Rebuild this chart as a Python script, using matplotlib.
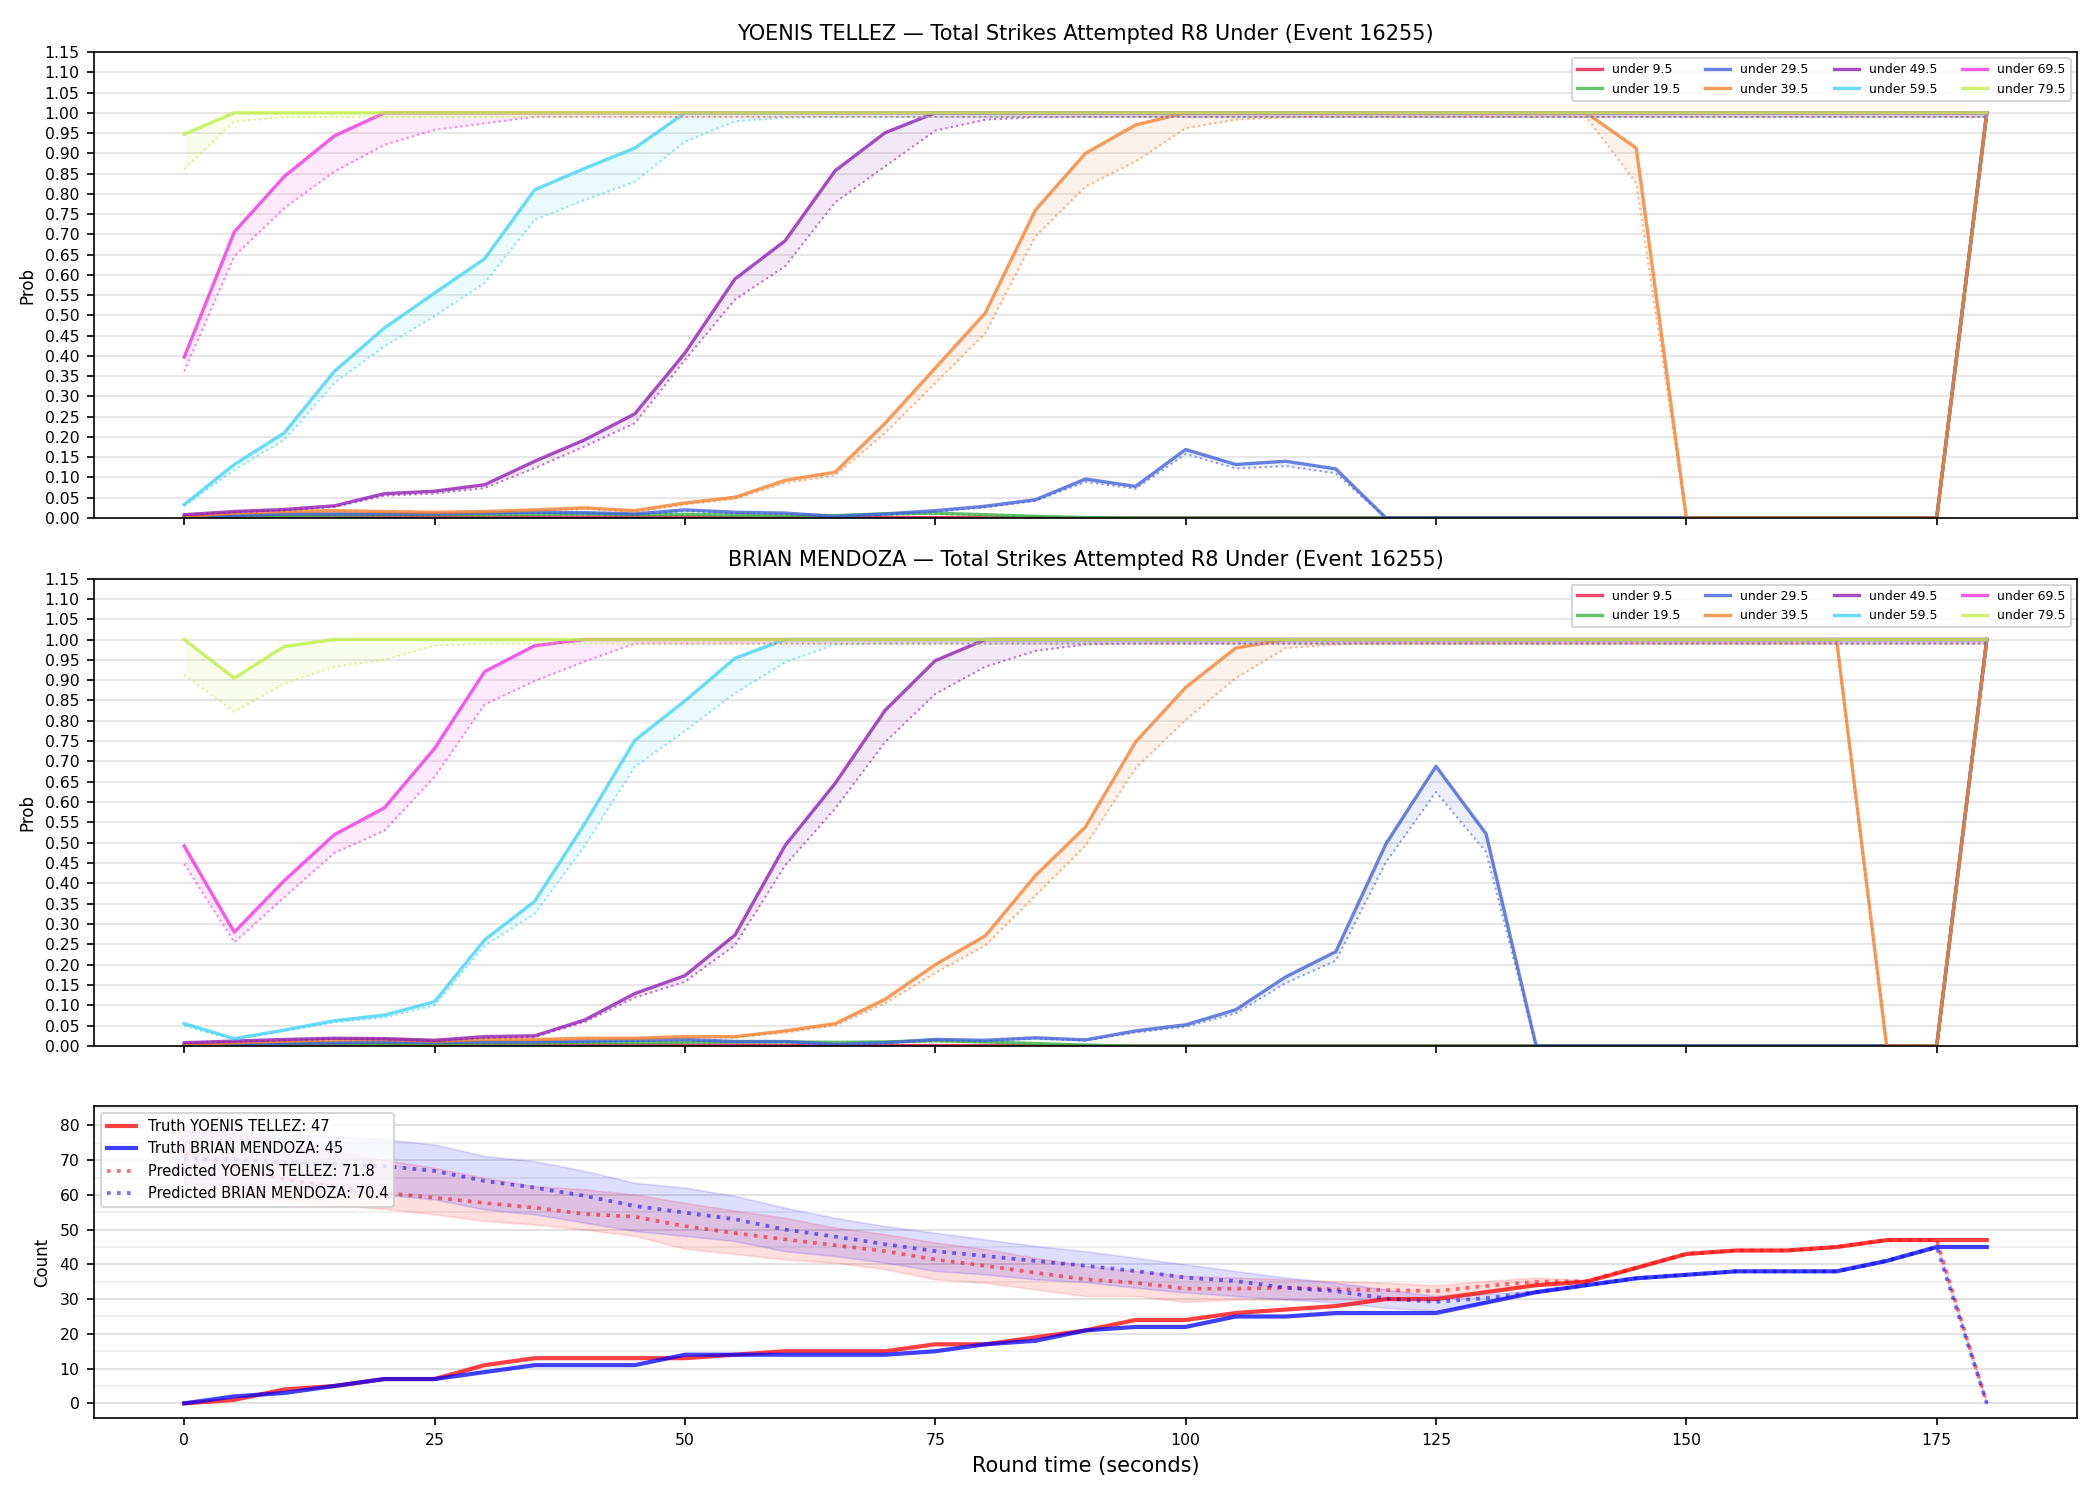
import matplotlib.pyplot as plt
from matplotlib.ticker import MultipleLocator

times = list(range(0, 181, 5))

labels = ["under 9.5", "under 19.5", "under 29.5", "under 39.5",
          "under 49.5", "under 59.5", "under 69.5", "under 79.5"]
colors = ["#e6194b", "#3cb44b", "#4363d8", "#f58231",
          "#911eb4", "#42d4f4", "#f032e6", "#bfef45"]

# ---- YOENIS TELLEZ : solid = model prob, dotted = lower edge ----
tel_u9 = [0.002, 0.003, 0.003, 0.003, 0.003, 0.003, 0.002, 0.002, 0.002, 0.002, 0.002, 0.001, 0.001,
          0.001, 0.001, 0.001, 0.001, 0.001, 0, 0, 0, 0, 0, 0, 0, 0, 0, 0, 0, 0, 0, 0, 0, 0, 0, 0, 1.0]
tel_u9_lo = [0.001, 0.002, 0.002, 0.002, 0.002, 0.002, 0.001, 0.001, 0.001, 0.001, 0.001, 0.001, 0.001,
             0.001, 0.001, 0.001, 0.001, 0.001, 0, 0, 0, 0, 0, 0, 0, 0, 0, 0, 0, 0, 0, 0, 0, 0, 0, 0, 0.99]
tel_u19 = [0.003, 0.005, 0.006, 0.007, 0.008, 0.008, 0.008, 0.009, 0.010, 0.008, 0.009, 0.007, 0.006,
           0.006, 0.010, 0.012, 0.008, 0.004, 0.001, 0, 0, 0, 0, 0, 0, 0, 0, 0, 0, 0, 0, 0, 0, 0, 0, 0, 1.0]
tel_u19_lo = [0.002, 0.004, 0.005, 0.006, 0.007, 0.007, 0.007, 0.008, 0.009, 0.007, 0.008, 0.006, 0.005,
              0.005, 0.009, 0.010, 0.007, 0.003, 0.001, 0, 0, 0, 0, 0, 0, 0, 0, 0, 0, 0, 0, 0, 0, 0, 0, 0, 0.99]
tel_u29 = [0.002, 0.006, 0.010, 0.010, 0.010, 0.010, 0.012, 0.014, 0.013, 0.010, 0.020, 0.014, 0.012,
           0.004, 0.010, 0.018, 0.029, 0.045, 0.096, 0.078, 0.169, 0.132, 0.140, 0.121,
           0, 0, 0, 0, 0, 0, 0, 0, 0, 0, 0, 0, 1.0]
tel_u29_lo = [0.001, 0.005, 0.008, 0.008, 0.008, 0.008, 0.010, 0.012, 0.011, 0.008, 0.017, 0.012, 0.010,
              0.003, 0.008, 0.015, 0.026, 0.042, 0.089, 0.072, 0.158, 0.122, 0.128, 0.110,
              0, 0, 0, 0, 0, 0, 0, 0, 0, 0, 0, 0, 0.99]
tel_u39 = [0.004, 0.012, 0.016, 0.018, 0.016, 0.014, 0.016, 0.020, 0.025, 0.018, 0.037, 0.051, 0.093,
           0.113, 0.234, 0.370, 0.506, 0.760, 0.900, 0.970, 1.0, 1.0, 1.0, 1.0, 1.0, 1.0, 1.0, 1.0, 1.0,
           0.913, 0, 0, 0, 0, 0, 0, 1.0]
tel_u39_lo = [0.003, 0.010, 0.014, 0.015, 0.014, 0.012, 0.014, 0.017, 0.022, 0.015, 0.033, 0.047, 0.086,
              0.105, 0.210, 0.333, 0.456, 0.695, 0.818, 0.880, 0.962, 0.983, 0.989, 0.99, 0.99, 0.99, 0.99,
              0.99, 0.99, 0.826, 0, 0, 0, 0, 0, 0, 0.99]
tel_u49 = [0.008, 0.016, 0.021, 0.030, 0.060, 0.066, 0.082, 0.140, 0.193, 0.257, 0.407, 0.590, 0.684,
           0.857, 0.951, 1.0, 1.0, 1.0, 1.0, 1.0, 1.0, 1.0, 1.0, 1.0, 1.0, 1.0, 1.0, 1.0, 1.0, 1.0, 1.0,
           1.0, 1.0, 1.0, 1.0, 1.0, 1.0]
tel_u49_lo = [0.007, 0.014, 0.019, 0.027, 0.055, 0.060, 0.074, 0.123, 0.177, 0.234, 0.390, 0.539, 0.621,
              0.779, 0.868, 0.956, 0.983, 0.989, 0.99, 0.99, 0.99, 0.99, 0.99, 0.99, 0.99, 0.99, 0.99,
              0.99, 0.99, 0.99, 0.99, 0.99, 0.99, 0.99, 0.99, 0.99, 0.99]
tel_u59 = [0.033, 0.132, 0.210, 0.362, 0.469, 0.555, 0.640, 0.810, 0.863, 0.913, 1.0, 1.0, 1.0, 1.0,
           1.0, 1.0, 1.0, 1.0, 1.0, 1.0, 1.0, 1.0, 1.0, 1.0, 1.0, 1.0, 1.0, 1.0, 1.0, 1.0, 1.0, 1.0, 1.0,
           1.0, 1.0, 1.0, 1.0]
tel_u59_lo = [0.029, 0.119, 0.193, 0.333, 0.424, 0.498, 0.580, 0.736, 0.785, 0.830, 0.929, 0.979, 0.988,
              0.99, 0.99, 0.99, 0.99, 0.99, 0.99, 0.99, 0.99, 0.99, 0.99, 0.99, 0.99, 0.99, 0.99, 0.99,
              0.99, 0.99, 0.99, 0.99, 0.99, 0.99, 0.99, 0.99, 0.99]
tel_u69 = [0.397, 0.706, 0.843, 0.943, 1.0, 1.0, 1.0, 1.0, 1.0, 1.0, 1.0, 1.0, 1.0, 1.0, 1.0, 1.0, 1.0,
           1.0, 1.0, 1.0, 1.0, 1.0, 1.0, 1.0, 1.0, 1.0, 1.0, 1.0, 1.0, 1.0, 1.0, 1.0, 1.0, 1.0, 1.0, 1.0, 1.0]
tel_u69_lo = [0.362, 0.646, 0.765, 0.855, 0.921, 0.958, 0.974, 0.99, 0.99, 0.99, 0.99, 0.99, 0.99, 0.99,
              0.99, 0.99, 0.99, 0.99, 0.99, 0.99, 0.99, 0.99, 0.99, 0.99, 0.99, 0.99, 0.99, 0.99, 0.99,
              0.99, 0.99, 0.99, 0.99, 0.99, 0.99, 0.99, 0.99]
tel_u79 = [0.947, 1.0, 1.0, 1.0, 1.0, 1.0, 1.0, 1.0, 1.0, 1.0, 1.0, 1.0, 1.0, 1.0, 1.0, 1.0, 1.0, 1.0,
           1.0, 1.0, 1.0, 1.0, 1.0, 1.0, 1.0, 1.0, 1.0, 1.0, 1.0, 1.0, 1.0, 1.0, 1.0, 1.0, 1.0, 1.0, 1.0]
tel_u79_lo = [0.861, 0.979, 0.989, 0.99, 0.99, 0.99, 0.99, 0.99, 0.99, 0.99, 0.99, 0.99, 0.99, 0.99,
              0.99, 0.99, 0.99, 0.99, 0.99, 0.99, 0.99, 0.99, 0.99, 0.99, 0.99, 0.99, 0.99, 0.99, 0.99,
              0.99, 0.99, 0.99, 0.99, 0.99, 0.99, 0.99, 0.99]

# ---- BRIAN MENDOZA ----
men_u9 = [0.002, 0.002, 0.003, 0.003, 0.003, 0.003, 0.002, 0.002, 0.002, 0.002, 0.002, 0.002, 0.001,
          0.001, 0.001, 0.001, 0.001, 0.001, 0.001, 0, 0, 0, 0, 0, 0, 0, 0, 0, 0, 0, 0, 0, 0, 0, 0, 0, 1.0]
men_u9_lo = [0.001, 0.001, 0.002, 0.002, 0.002, 0.002, 0.001, 0.001, 0.001, 0.001, 0.001, 0.001, 0.001,
             0.001, 0.001, 0.001, 0.001, 0.001, 0.001, 0, 0, 0, 0, 0, 0, 0, 0, 0, 0, 0, 0, 0, 0, 0, 0, 0, 0.99]
men_u19 = [0.003, 0.004, 0.005, 0.006, 0.006, 0.006, 0.007, 0.007, 0.008, 0.008, 0.009, 0.010, 0.010,
           0.009, 0.010, 0.013, 0.010, 0.006, 0.002, 0, 0, 0, 0, 0, 0, 0, 0, 0, 0, 0, 0, 0, 0, 0, 0, 0, 1.0]
men_u19_lo = [0.002, 0.003, 0.004, 0.005, 0.005, 0.005, 0.006, 0.006, 0.007, 0.007, 0.008, 0.009, 0.009,
              0.008, 0.009, 0.011, 0.009, 0.005, 0.001, 0, 0, 0, 0, 0, 0, 0, 0, 0, 0, 0, 0, 0, 0, 0, 0, 0, 0.99]
men_u29 = [0.002, 0.004, 0.007, 0.008, 0.010, 0.009, 0.010, 0.010, 0.012, 0.014, 0.016, 0.011, 0.011,
           0.004, 0.008, 0.016, 0.014, 0.020, 0.015, 0.037, 0.052, 0.089, 0.170, 0.232, 0.497, 0.688,
           0.522, 0, 0, 0, 0, 0, 0, 0, 0, 0, 1.0]
men_u29_lo = [0.001, 0.003, 0.006, 0.007, 0.008, 0.008, 0.008, 0.009, 0.010, 0.012, 0.014, 0.009, 0.009,
              0.003, 0.007, 0.014, 0.012, 0.018, 0.013, 0.033, 0.047, 0.080, 0.155, 0.210, 0.452, 0.625,
              0.477, 0, 0, 0, 0, 0, 0, 0, 0, 0, 0.99]
men_u39 = [0.004, 0.008, 0.012, 0.015, 0.016, 0.012, 0.016, 0.016, 0.019, 0.019, 0.023, 0.023, 0.037,
           0.055, 0.115, 0.200, 0.271, 0.419, 0.539, 0.748, 0.882, 0.979, 1.0, 1.0, 1.0, 1.0, 1.0, 1.0,
           1.0, 1.0, 1.0, 1.0, 1.0, 1.0, 0, 0, 1.0]
men_u39_lo = [0.003, 0.007, 0.010, 0.013, 0.014, 0.010, 0.014, 0.014, 0.017, 0.017, 0.020, 0.020, 0.033,
              0.050, 0.105, 0.180, 0.247, 0.370, 0.493, 0.683, 0.802, 0.905, 0.979, 0.988, 0.99, 0.99,
              0.99, 0.99, 0.99, 0.99, 0.99, 0.99, 0.99, 0.99, 0, 0, 0.99]
men_u49 = [0.008, 0.012, 0.016, 0.019, 0.018, 0.014, 0.023, 0.025, 0.064, 0.129, 0.173, 0.273, 0.493,
           0.646, 0.826, 0.948, 1.0, 1.0, 1.0, 1.0, 1.0, 1.0, 1.0, 1.0, 1.0, 1.0, 1.0, 1.0, 1.0, 1.0, 1.0,
           1.0, 1.0, 1.0, 1.0, 1.0, 1.0]
men_u49_lo = [0.007, 0.010, 0.014, 0.017, 0.016, 0.012, 0.020, 0.022, 0.059, 0.119, 0.158, 0.248, 0.444,
              0.584, 0.748, 0.866, 0.933, 0.972, 0.988, 0.99, 0.99, 0.99, 0.99, 0.99, 0.99, 0.99, 0.99,
              0.99, 0.99, 0.99, 0.99, 0.99, 0.99, 0.99, 0.99, 0.99, 0.99]
men_u59 = [0.055, 0.018, 0.039, 0.062, 0.076, 0.109, 0.261, 0.356, 0.547, 0.752, 0.849, 0.954, 1.0, 1.0,
           1.0, 1.0, 1.0, 1.0, 1.0, 1.0, 1.0, 1.0, 1.0, 1.0, 1.0, 1.0, 1.0, 1.0, 1.0, 1.0, 1.0, 1.0, 1.0,
           1.0, 1.0, 1.0, 1.0]
men_u59_lo = [0.049, 0.016, 0.037, 0.058, 0.070, 0.100, 0.247, 0.325, 0.493, 0.687, 0.775, 0.868, 0.944,
              0.988, 0.99, 0.99, 0.99, 0.99, 0.99, 0.99, 0.99, 0.99, 0.99, 0.99, 0.99, 0.99, 0.99, 0.99,
              0.99, 0.99, 0.99, 0.99, 0.99, 0.99, 0.99, 0.99, 0.99]
men_u69 = [0.492, 0.280, 0.407, 0.520, 0.586, 0.732, 0.921, 0.985, 1.0, 1.0, 1.0, 1.0, 1.0, 1.0, 1.0,
           1.0, 1.0, 1.0, 1.0, 1.0, 1.0, 1.0, 1.0, 1.0, 1.0, 1.0, 1.0, 1.0, 1.0, 1.0, 1.0, 1.0, 1.0, 1.0,
           1.0, 1.0, 1.0]
men_u69_lo = [0.448, 0.255, 0.366, 0.475, 0.530, 0.662, 0.840, 0.898, 0.946, 0.99, 0.99, 0.99, 0.99,
              0.99, 0.99, 0.99, 0.99, 0.99, 0.99, 0.99, 0.99, 0.99, 0.99, 0.99, 0.99, 0.99, 0.99, 0.99,
              0.99, 0.99, 0.99, 0.99, 0.99, 0.99, 0.99, 0.99, 0.99]
men_u79 = [1.0, 0.905, 0.983, 1.0, 1.0, 1.0, 1.0, 1.0, 1.0, 1.0, 1.0, 1.0, 1.0, 1.0, 1.0, 1.0, 1.0, 1.0,
           1.0, 1.0, 1.0, 1.0, 1.0, 1.0, 1.0, 1.0, 1.0, 1.0, 1.0, 1.0, 1.0, 1.0, 1.0, 1.0, 1.0, 1.0, 1.0]
men_u79_lo = [0.914, 0.822, 0.892, 0.933, 0.950, 0.985, 0.99, 0.99, 0.99, 0.99, 0.99, 0.99, 0.99, 0.99,
              0.99, 0.99, 0.99, 0.99, 0.99, 0.99, 0.99, 0.99, 0.99, 0.99, 0.99, 0.99, 0.99, 0.99, 0.99,
              0.99, 0.99, 0.99, 0.99, 0.99, 0.99, 0.99, 0.99]

# ---- counts panel ----
truth_tel = [0, 1, 4, 5, 7, 7, 11, 13, 13, 13, 13, 14, 15, 15, 15, 17, 17, 19, 21, 24, 24, 26, 27, 28,
             30, 30, 32, 34, 35, 39, 43, 44, 44, 45, 47, 47, 47]
truth_men = [0, 2, 3, 5, 7, 7, 9, 11, 11, 11, 14, 14, 14, 14, 14, 15, 17, 18, 21, 22, 22, 25, 25, 26,
             26, 26, 29, 32, 34, 36, 37, 38, 38, 38, 41, 45, 45]
pred_tel = [71.8, 67.8, 64.5, 62.4, 60.6, 59.2, 57.7, 56.3, 54.5, 53.7, 51.0, 49.0, 47.2, 45.5, 43.8,
            41.4, 39.6, 37.6, 35.7, 34.7, 33.0, 33.0, 33.3, 32.8, 32.6, 32.3, 33.8, 35.0, 35.2, 39, 43,
            44, 44, 45, 47, 47, 0]
pred_tel_lo = [62, 60, 58.5, 57, 56, 54.4, 52.5, 51.5, 50.0, 48.2, 44.5, 43.0, 41.4, 40.5, 38.6, 35.7,
               34.7, 32.8, 30.9, 30.9, 29.2, 29.9, 29.9, 29.9, 29.9, 30.9, 32.3, 34.0, 35.0, 39, 43, 44,
               44, 45, 47, 47, 0]
pred_tel_hi = [80, 77.5, 75, 72.5, 70, 67.8, 64.9, 62.5, 61.6, 60.1, 57.7, 55.5, 53.4, 50.6, 48.7, 46.3,
               44.4, 41.9, 39.6, 38.1, 36.7, 36.2, 35.7, 35.2, 34.7, 34.0, 35.2, 36.2, 35.5, 39, 43, 44,
               44, 45, 47, 47, 0]
pred_men = [70.4, 70.2, 69.3, 68.8, 68.3, 66.9, 64.0, 62.1, 59.7, 56.8, 54.9, 53.0, 50.0, 48.0, 45.8,
            43.8, 42.4, 41.0, 39.6, 38.1, 36.2, 35.2, 33.3, 32.3, 30.2, 29.2, 30.3, 32.0, 34.0, 36, 37,
            38, 38, 38, 41, 45, 0]
pred_men_lo = [63, 62.5, 62, 61, 60, 58.7, 55.8, 54.4, 52.0, 49.6, 48.2, 46.7, 43.8, 42.4, 40.5, 38.1,
               37.1, 35.7, 34.9, 33.3, 31.9, 30.9, 29.9, 29.0, 27.5, 26.7, 29.0, 32.0, 34, 36, 37, 38,
               38, 38, 41, 45, 0]
pred_men_hi = [78.5, 78, 77.5, 77, 76, 74.5, 71.2, 69.7, 66.9, 63.5, 62.1, 59.7, 56.3, 53.4, 51.0, 49.1,
               47.2, 45.3, 43.8, 41.9, 40.0, 38.1, 36.2, 34.7, 32.8, 30.9, 31.5, 32.5, 34, 36, 37, 38,
               38, 38, 41, 45, 0]

tel_solid = [tel_u9, tel_u19, tel_u29, tel_u39, tel_u49, tel_u59, tel_u69, tel_u79]
tel_lo = [tel_u9_lo, tel_u19_lo, tel_u29_lo, tel_u39_lo, tel_u49_lo, tel_u59_lo, tel_u69_lo, tel_u79_lo]
men_solid = [men_u9, men_u19, men_u29, men_u39, men_u49, men_u59, men_u69, men_u79]
men_lo = [men_u9_lo, men_u19_lo, men_u29_lo, men_u39_lo, men_u49_lo, men_u59_lo, men_u69_lo, men_u79_lo]


def draw_probs(ax, solids, lows, title):
    for s, lo, c, lab in zip(solids, lows, colors, labels):
        ax.fill_between(times, lo, s, color=c, alpha=0.1, linewidth=0)
        ax.plot(times, lo, ':', color=c, lw=1.0, alpha=0.6)
        ax.plot(times, s, '-', color=c, lw=1.6, alpha=0.8, label=lab)
    ax.set_ylim(0, 1.15)
    ax.yaxis.set_major_locator(MultipleLocator(0.05))
    ax.grid(axis='y', color='#e3e3e3', lw=0.8)
    ax.set_axisbelow(True)
    ax.set_ylabel("Prob", fontsize=8)
    ax.tick_params(labelsize=7.5)
    ax.set_title(title, fontsize=10)
    ax.legend(loc='upper right', ncol=4, fontsize=6)


fig = plt.figure(figsize=(14, 10), dpi=150)
ax1 = fig.add_axes([0.0448, 0.6547, 0.9442, 0.3106])
ax2 = fig.add_axes([0.0448, 0.3027, 0.9442, 0.3116], sharex=ax1)
ax3 = fig.add_axes([0.0448, 0.0547, 0.9442, 0.2080], sharex=ax1)

draw_probs(ax1, tel_solid, tel_lo, "YOENIS TELLEZ — Total Strikes Attempted R8 Under (Event 16255)")
draw_probs(ax2, men_solid, men_lo, "BRIAN MENDOZA — Total Strikes Attempted R8 Under (Event 16255)")
ax1.tick_params(labelbottom=False)
ax2.tick_params(labelbottom=False)

ax3.fill_between(times, pred_tel_lo, pred_tel_hi, color='red', alpha=0.13, linewidth=0.8)
ax3.fill_between(times, pred_men_lo, pred_men_hi, color='blue', alpha=0.13, linewidth=0.8)
ax3.plot(times, truth_tel, '-', color='red', lw=2, alpha=0.75, label="Truth YOENIS TELLEZ: 47")
ax3.plot(times, truth_men, '-', color='blue', lw=2, alpha=0.75, label="Truth BRIAN MENDOZA: 45")
ax3.plot(times, pred_tel, ':', color='red', lw=1.8, alpha=0.55, label="Predicted YOENIS TELLEZ: 71.8")
ax3.plot(times, pred_men, ':', color='blue', lw=1.8, alpha=0.55, label="Predicted BRIAN MENDOZA: 70.4")
ax3.set_ylim(-4.2, 85.6)
ax3.yaxis.set_major_locator(MultipleLocator(10))
ax3.yaxis.set_minor_locator(MultipleLocator(5))
ax3.grid(axis='y', which='major', color='#dddddd', lw=0.8)
ax3.grid(axis='y', which='minor', color='#eeeeee', lw=0.8)
ax3.tick_params(axis='y', which='minor', left=False)
ax3.set_axisbelow(True)
ax3.set_ylabel("Count", fontsize=8)
ax3.set_xlabel("Round time (seconds)", fontsize=10)
ax3.tick_params(labelsize=7.5)
ax3.legend(loc='upper left', fontsize=7)
ax3.xaxis.set_major_locator(MultipleLocator(25))

fig.savefig("out.png", dpi=150)
